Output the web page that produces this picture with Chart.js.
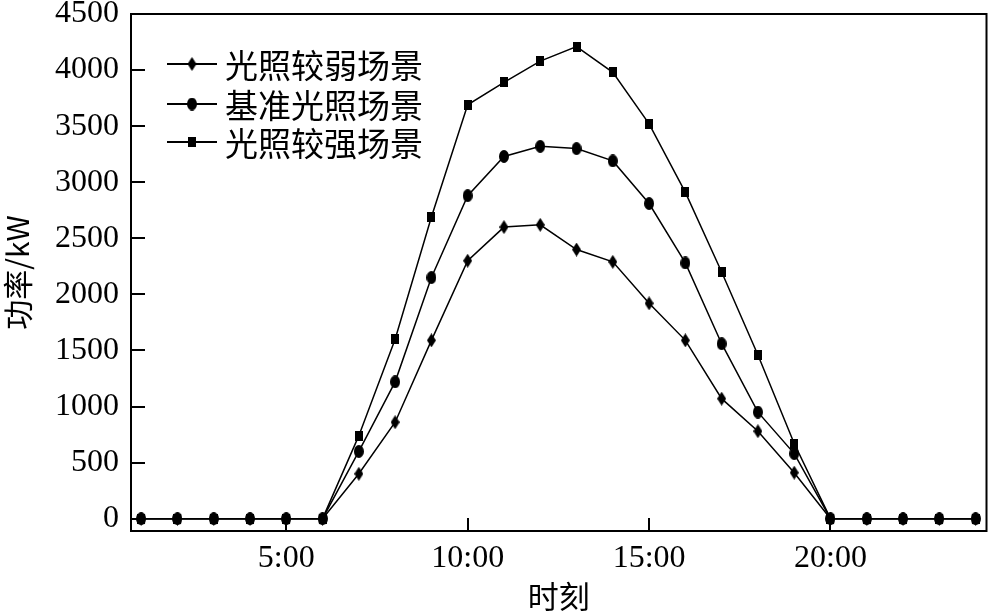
<!DOCTYPE html>
<html>
<head>
<meta charset="utf-8">
<script src="https://cdn.jsdelivr.net/npm/chart.js@4.4.0/dist/chart.umd.min.js"></script>
<style>
    body { margin: 0; background: #fff; }
    #wrap { width: 993px; height: 615px; }
</style>
</head>
<body>
<div id="wrap"><canvas id="powerChart" width="993" height="615"></canvas></div>
<script>
// Stunden 1..24
const hours = [1, 2, 3, 4, 5, 6, 7, 8, 9, 10, 11, 12, 13, 14, 15, 16, 17, 18, 19, 20, 21, 22, 23, 24];

const weakLight = [0, 0, 0, 0, 0, 0, 400, 860, 1590, 2300, 2600, 2620, 2400, 2290, 1920, 1590, 1070, 780, 410, 0, 0, 0, 0, 0];
const baseLight = [0, 0, 0, 0, 0, 0, 600, 1220, 2150, 2880, 3230, 3320, 3300, 3190, 2810, 2280, 1560, 950, 580, 0, 0, 0, 0, 0];
const strongLight = [0, 0, 0, 0, 0, 0, 740, 1600, 2690, 3690, 3890, 4080, 4210, 3980, 3520, 2910, 2200, 1460, 670, 0, 0, 0, 0, 0];

const seriesNames = ['光照较弱场景', '基准光照场景', '光照较强场景'];

const yTicks = [0, 500, 1000, 1500, 2000, 2500, 3000, 3500, 4000, 4500];
const xTicks = [5, 10, 15, 20];
const xTickLabels = ['5:00', '10:00', '15:00', '20:00'];

const serif = '"Liberation Serif", "Times New Roman", serif';
const cjk = '"Noto Sans CJK SC", sans-serif';

// kleine Marker als Canvas-Bilder
function makeMarker(kind) {
    const c = document.createElement('canvas');
    const w = kind === 'rect' ? 8 : (kind === 'diamond' ? 9 : 10);
    const h = kind === 'rect' ? 10 : (kind === 'diamond' ? 14 : 13);
    c.width = w;
    c.height = h;
    const g = c.getContext('2d');
    g.fillStyle = '#000';
    g.beginPath();
    if (kind === 'diamond') {
        g.moveTo(w / 2, 0);
        g.lineTo(w, h / 2);
        g.lineTo(w / 2, h);
        g.lineTo(0, h / 2);
        g.closePath();
    } else if (kind === 'ellipse') {
        g.ellipse(w / 2, h / 2, w / 2, h / 2, 0, 0, Math.PI * 2);
    } else {
        g.rect(0, 0, w, h);
    }
    g.fill();
    return c;
}

const markers = [makeMarker('diamond'), makeMarker('ellipse'), makeMarker('rect')];

function toPoints(values) {
    return hours.map((h, i) => ({ x: h, y: values[i] }));
}

// Rahmen, innenliegende Ticks und Legende
const framePlugin = {
    id: 'frame',
    afterDraw(chart) {
        const ctx = chart.ctx;
        const a = chart.chartArea;
        const xs = chart.scales.x;
        const ys = chart.scales.y;
        ctx.save();
        ctx.strokeStyle = '#000';
        ctx.lineWidth = 2;
        ctx.strokeRect(a.left, a.top, a.right - a.left, a.bottom - a.top);
        ctx.beginPath();
        yTicks.forEach(v => {
            const py = Math.round(ys.getPixelForValue(v));
            ctx.moveTo(a.left, py);
            ctx.lineTo(a.left + 14, py);
        });
        xTicks.forEach(v => {
            const px = Math.round(xs.getPixelForValue(v));
            ctx.moveTo(px, a.bottom);
            ctx.lineTo(px, a.bottom - 13);
        });
        ctx.stroke();

        // Legende
        ctx.font = '33px ' + cjk;
        ctx.textBaseline = 'middle';
        ctx.fillStyle = '#000';
        const rowY = [a.top + 50, a.top + 90, a.top + 128];
        chart.data.datasets.forEach((ds, i) => {
            const y = rowY[i];
            const x0 = a.left + 36;
            ctx.lineWidth = 2;
            ctx.beginPath();
            ctx.moveTo(x0, y);
            ctx.lineTo(x0 + 50, y);
            ctx.stroke();
            const img = markers[i];
            ctx.drawImage(img, x0 + 25 - img.width / 2, y - img.height / 2);
            ctx.fillText(ds.label, x0 + 58, y + 1);
        });
        ctx.restore();
    }
};

const ctx = document.getElementById('powerChart').getContext('2d');
new Chart(ctx, {
    type: 'line',
    data: {
        datasets: [weakLight, baseLight, strongLight].map((vals, i) => ({
            label: seriesNames[i],
            data: toPoints(vals),
            borderColor: '#000',
            backgroundColor: '#000',
            borderWidth: 1.5,
            pointStyle: markers[i],
            pointRadius: 5,
            fill: false,
            tension: 0
        }))
    },
    options: {
        responsive: false,
        animation: false,
        devicePixelRatio: 1,
        layout: { padding: { top: 14, right: 2, left: 0, bottom: 0 } },
        scales: {
            x: {
                type: 'linear',
                min: 0.72,
                max: 24.3,
                grid: { display: false },
                border: { display: false },
                afterBuildTicks: scale => { scale.ticks = xTicks.map(v => ({ value: v })); },
                afterFit: scale => {
                    scale.height = 84;
                    scale.paddingLeft = 0;
                    scale.paddingRight = 0;
                },
                ticks: {
                    color: '#000',
                    padding: 0,
                    maxRotation: 0,
                    autoSkip: false,
                    font: { family: serif, size: 32 },
                    callback: v => xTickLabels[xTicks.indexOf(v)]
                },
                title: {
                    display: true,
                    text: '时刻',
                    color: '#000',
                    padding: { top: 0, bottom: 0 },
                    font: { family: cjk, size: 31 }
                }
            },
            y: {
                min: -110,
                max: 4500,
                grid: { display: false },
                border: { display: false },
                afterBuildTicks: scale => { scale.ticks = yTicks.map(v => ({ value: v })); },
                afterFit: scale => {
                    scale.width = 131;
                    scale.paddingTop = 0;
                    scale.paddingBottom = 0;
                },
                ticks: {
                    color: '#000',
                    padding: 4,
                    autoSkip: false,
                    font: { family: serif, size: 32 },
                    callback: v => String(v)
                },
                title: {
                    display: true,
                    text: '功率/kW',
                    color: '#000',
                    padding: { top: 0, bottom: 0 },
                    font: { family: cjk, size: 30 }
                }
            }
        },
        plugins: {
            legend: { display: false },
            tooltip: { enabled: false }
        }
    },
    plugins: [framePlugin]
});
</script>
</body>
</html>
